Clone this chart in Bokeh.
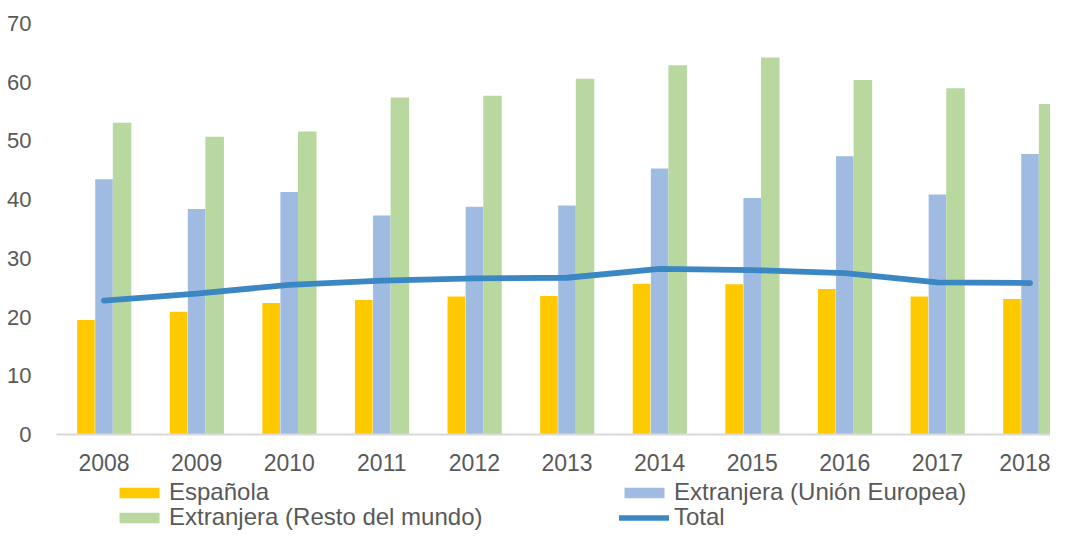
from bokeh.plotting import figure
from bokeh.layouts import column
from bokeh.models import (ColumnDataSource, Range1d, FixedTicker, Legend, LegendItem)
from bokeh.transform import dodge
from bokeh.embed import file_html
from bokeh.resources import INLINE

years = [2008, 2009, 2010, 2011, 2012, 2013, 2014, 2015, 2016, 2017, 2018]
espanola = [19.5, 20.9, 22.4, 22.9, 23.5, 23.6, 25.7, 25.6, 24.8, 23.5, 23.1]
extranjera_ue = [43.5, 38.4, 41.3, 37.3, 38.8, 39.0, 45.3, 40.3, 47.4, 40.9, 47.8]
extranjera_resto = [53.1, 50.7, 51.6, 57.4, 57.7, 60.6, 62.9, 64.2, 60.4, 59.0, 56.3]
total = [22.8, 24.0, 25.5, 26.2, 26.6, 26.7, 28.2, 28.0, 27.5, 25.9, 25.8]
y_ticks = [0, 10, 20, 30, 40, 50, 60, 70]

labels = ["Española", "Extranjera (Unión Europea)", "Extranjera (Resto del mundo)", "Total"]
colors = ["#FFC900", "#A0BBE2", "#B8D8A0", "#3A87C4"]

FONT = "Liberation Sans"
TXT = "#595959"
W = 1050

src = ColumnDataSource(dict(year=years, esp=espanola, ue=extranjera_ue,
                            resto=extranjera_resto, total=total))

# ---------------- main chart ----------------
p = figure(width=W, height=476, output_backend="svg", toolbar_location=None,
           x_range=Range1d(2007.487, 2018.221), y_range=Range1d(0, 73.93),
           min_border_left=56, min_border_right=0, min_border_top=0, min_border_bottom=42)
p.outline_line_color = None
p.grid.visible = False
p.background_fill_color = "white"
p.border_fill_color = "white"

bw = 0.19
p.vbar(x=dodge("year", -0.195, range=p.x_range), top="esp", width=bw, source=src,
       fill_color=colors[0], line_color=None)
p.vbar(x=dodge("year", 0.0, range=p.x_range), top="ue", width=bw, source=src,
       fill_color=colors[1], line_color=None)
p.vbar(x=dodge("year", 0.195, range=p.x_range), top="resto", width=bw + 0.01, source=src,
       fill_color=colors[2], line_color=None)
p.line(x="year", y="total", source=src, line_color=colors[3], line_width=5.8,
       line_cap="round", line_join="round")

xa = p.xaxis[0]
xa.ticker = FixedTicker(ticks=years)
xa.axis_line_color = "#D9D9D9"
xa.axis_line_width = 2
xa.major_tick_line_color = None
xa.minor_tick_line_color = None
xa.major_label_standoff = 13
xa.major_label_text_font = FONT
xa.major_label_text_font_size = "23px"
xa.major_label_text_color = TXT

ya = p.yaxis[0]
ya.ticker = FixedTicker(ticks=y_ticks)
ya.axis_line_color = None
ya.major_tick_line_color = None
ya.minor_tick_line_color = None
ya.major_label_standoff = 19
ya.major_label_text_font = FONT
ya.major_label_text_font_size = "22px"
ya.major_label_text_color = TXT

# ---------------- legend strip ----------------
# The same series are attached here (outside this strip's visible range) only so
# that the legend entries have renderers to draw their swatches from.
q = figure(width=W, height=55, output_backend="svg", toolbar_location=None,
           x_range=Range1d(0, 1), y_range=Range1d(0, 1),
           x_axis_location=None, y_axis_location=None,
           min_border_left=56, min_border_right=0, min_border_top=0, min_border_bottom=0)
q.outline_line_color = None
q.grid.visible = False
q.border_fill_color = "white"

g1 = q.vbar(x="year", top="esp", width=bw, source=src, fill_color=colors[0], line_color=None)
g2 = q.vbar(x="year", top="ue", width=bw, source=src, fill_color=colors[1], line_color=None)
g3 = q.vbar(x="year", top="resto", width=bw, source=src, fill_color=colors[2], line_color=None)
g4 = q.line(x="year", y="total", source=src, line_color=colors[3], line_width=5.5,
            line_cap="round")


def make_legend(items, y):
    return Legend(items=items, orientation="horizontal", location=(58, y),
                  glyph_width=50, glyph_height=13, label_standoff=5, label_width=440,
                  spacing=10, padding=0, margin=0, border_line_color=None,
                  background_fill_alpha=0, label_text_font=FONT,
                  label_text_font_size="24px", label_text_color=TXT)


q.add_layout(make_legend([LegendItem(label=labels[0], renderers=[g1]),
                          LegendItem(label=labels[1], renderers=[g2])], 25))
q.add_layout(make_legend([LegendItem(label=labels[2], renderers=[g3]),
                          LegendItem(label=labels[3], renderers=[g4])], 0))

layout = column(p, q, spacing=0)
open("out.html", "w").write(file_html(layout, INLINE))
